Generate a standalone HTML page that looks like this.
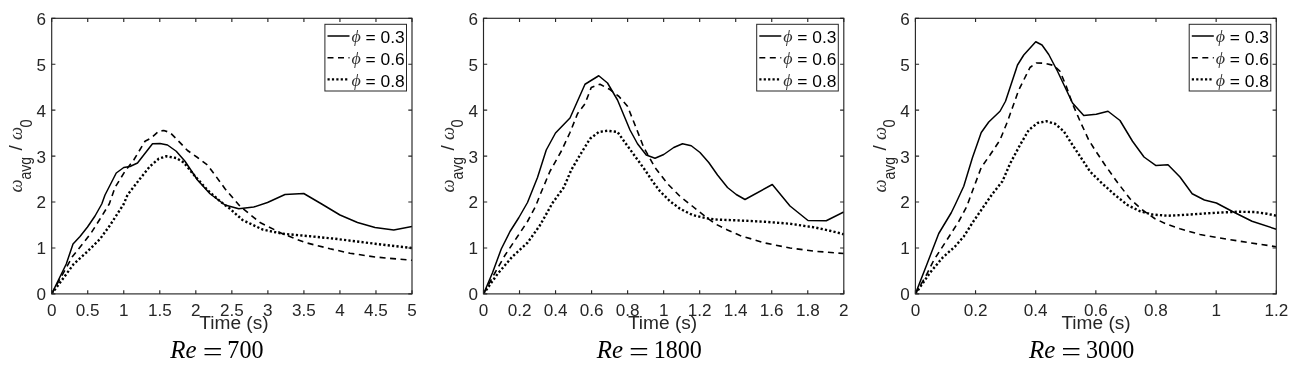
<!DOCTYPE html>
<html lang="en"><head><meta charset="utf-8"><title>Average vorticity</title>
<style>
html,body{margin:0;padding:0;background:#fff;}
body{width:1297px;height:368px;overflow:hidden;}
svg{display:block;}
.tk{font-family:"Liberation Sans",sans-serif;font-size:17.1px;fill:#262626;}
.lb{font-family:"Liberation Sans",sans-serif;font-size:19.1px;fill:#262626;}
.sub{font-family:"Liberation Sans",sans-serif;font-size:14px;fill:#262626;}
.lg{font-family:"Liberation Sans",sans-serif;font-size:17.4px;fill:#000;}
.mi{font-family:"Liberation Serif","DejaVu Serif",serif;font-style:italic;fill:#333;}
.cap{font-family:"Liberation Serif",serif;font-size:24px;fill:#000;}
.ax{stroke:#262626;stroke-width:1.15;fill:none;}
.cs{stroke:#000;stroke-width:1.5;fill:none;stroke-linejoin:round;}
.cd{stroke:#000;stroke-width:1.6;fill:none;stroke-dasharray:6 4.5;stroke-linejoin:round;}
.ct{stroke:#000;stroke-width:2.4;fill:none;stroke-dasharray:2.2 2.2;stroke-linejoin:round;}
</style></head><body>
<svg width="1297" height="368" viewBox="0 0 1297 368">
<rect width="1297" height="368" fill="#fff"/>
<g id="plot1">
<clipPath id="c0"><rect x="51.7" y="18.3" width="360.30" height="275.60"/></clipPath>
<g clip-path="url(#c0)">
<polyline class="cs" points="51.70,293.90 66.25,264.00 73.00,244.00 80.00,236.50 87.50,227.00 95.00,216.00 101.75,204.00 105.00,195.00 116.25,173.00 123.75,167.50 130.00,166.50 137.50,163.00 152.50,143.75 160.00,143.50 167.50,145.00 176.25,151.25 185.00,161.25 197.50,180.00 210.00,193.75 225.00,205.00 238.75,208.75 253.75,207.00 267.50,202.50 285.00,194.50 303.75,193.50 321.25,203.75 340.00,215.00 357.50,222.50 375.00,227.50 393.75,230.00 412.00,226.50"/>
<polyline class="cd" points="51.70,293.90 72.50,256.50 82.50,244.00 91.25,232.75 100.00,219.00 109.25,204.00 115.00,187.50 125.00,171.25 133.75,160.00 145.00,141.25 151.25,138.00 158.75,131.25 163.75,130.50 170.00,132.50 177.50,140.00 187.50,150.50 197.50,157.50 207.50,165.00 215.00,175.00 225.00,188.75 240.00,206.25 260.00,222.50 282.50,233.75 305.00,242.50 330.00,248.75 350.00,253.25 375.00,257.00 412.00,260.30"/>
<polyline class="ct" points="51.70,293.90 73.75,264.00 87.50,251.50 100.00,239.00 110.00,225.25 123.75,204.00 127.50,195.00 140.00,178.75 150.00,166.25 158.75,158.75 166.25,156.25 176.25,158.00 183.75,162.50 195.00,176.25 207.50,190.00 220.00,201.25 230.00,208.75 242.50,220.00 262.50,229.50 282.50,233.75 310.00,236.25 335.00,238.75 355.00,241.25 375.00,243.75 412.00,248.00"/>
</g>
<rect class="ax" x="51.7" y="18.3" width="360.30" height="275.60"/>
<text class="tk" x="51.70" y="316.3" text-anchor="middle">0</text>
<text class="tk" x="87.73" y="316.3" text-anchor="middle">0.5</text>
<text class="tk" x="123.76" y="316.3" text-anchor="middle">1</text>
<text class="tk" x="159.79" y="316.3" text-anchor="middle">1.5</text>
<text class="tk" x="195.82" y="316.3" text-anchor="middle">2</text>
<text class="tk" x="231.85" y="316.3" text-anchor="middle">2.5</text>
<text class="tk" x="267.88" y="316.3" text-anchor="middle">3</text>
<text class="tk" x="303.91" y="316.3" text-anchor="middle">3.5</text>
<text class="tk" x="339.94" y="316.3" text-anchor="middle">4</text>
<text class="tk" x="375.97" y="316.3" text-anchor="middle">4.5</text>
<text class="tk" x="412.00" y="316.3" text-anchor="middle">5</text>
<text class="tk" x="46.10" y="300.30" text-anchor="end">0</text>
<text class="tk" x="46.10" y="254.37" text-anchor="end">1</text>
<text class="tk" x="46.10" y="208.43" text-anchor="end">2</text>
<text class="tk" x="46.10" y="162.50" text-anchor="end">3</text>
<text class="tk" x="46.10" y="116.57" text-anchor="end">4</text>
<text class="tk" x="46.10" y="70.63" text-anchor="end">5</text>
<text class="tk" x="46.10" y="24.70" text-anchor="end">6</text>
<path class="ax" d="M51.70 293.9v-3.7M51.70 18.3v3.7M87.73 293.9v-3.7M87.73 18.3v3.7M123.76 293.9v-3.7M123.76 18.3v3.7M159.79 293.9v-3.7M159.79 18.3v3.7M195.82 293.9v-3.7M195.82 18.3v3.7M231.85 293.9v-3.7M231.85 18.3v3.7M267.88 293.9v-3.7M267.88 18.3v3.7M303.91 293.9v-3.7M303.91 18.3v3.7M339.94 293.9v-3.7M339.94 18.3v3.7M375.97 293.9v-3.7M375.97 18.3v3.7M412.00 293.9v-3.7M412.00 18.3v3.7M51.7 293.90h3.7M412.0 293.90h-3.7M51.7 247.97h3.7M412.0 247.97h-3.7M51.7 202.03h3.7M412.0 202.03h-3.7M51.7 156.10h3.7M412.0 156.10h-3.7M51.7 110.17h3.7M412.0 110.17h-3.7M51.7 64.23h3.7M412.0 64.23h-3.7M51.7 18.30h3.7M412.0 18.30h-3.7"/>
<text class="lb" x="233.95" y="329.2" text-anchor="middle">Time (s)</text>
<text class="mi" font-size="18.6px" transform="translate(22.30,192.60) rotate(-90)">ω</text>
<text class="sub"  transform="translate(31.20,179.60) rotate(-90) scale(1,1.13)">avg</text>
<text class="lb"  transform="translate(21.80,150.50) rotate(-90)">/</text>
<text class="mi" font-size="18.6px" transform="translate(22.30,140.00) rotate(-90)">ω</text>
<text class="sub"  transform="translate(31.60,127.60) rotate(-90) scale(1.05,1.12)">0</text>
<rect x="324.90" y="24.3" width="81.6" height="66.7" fill="#fff" stroke="#262626" stroke-width="1"/>
<line class="cs" x1="327.50" y1="36.00" x2="349.50" y2="36.00"/>
<text class="mi" font-size="18px" fill="#333" transform="translate(351.50,42.40) scale(1,0.9)">ϕ</text><text class="lg" x="365.50" y="43.20">= 0.3</text>
<line class="cd" x1="327.50" y1="57.70" x2="349.50" y2="57.70"/>
<text class="mi" font-size="18px" fill="#333" transform="translate(351.50,64.10) scale(1,0.9)">ϕ</text><text class="lg" x="365.50" y="64.90">= 0.6</text>
<line class="ct" x1="327.50" y1="79.40" x2="349.50" y2="79.40"/>
<text class="mi" font-size="18px" fill="#333" transform="translate(351.50,85.80) scale(1,0.9)">ϕ</text><text class="lg" x="365.50" y="86.60">= 0.8</text>
<text class="cap" font-style="italic" transform="translate(170.37,358.0) scale(1.04,1.035)">Re</text>
<text class="cap" transform="translate(202.67,360.7) scale(1.47,1.10)">=</text>
<text class="cap" transform="translate(227.37,358.0) scale(1.005,1.035)">700</text>
</g>
<g id="plot2">
<clipPath id="c1"><rect x="483.5" y="18.3" width="360.30" height="275.60"/></clipPath>
<g clip-path="url(#c1)">
<polyline class="cs" points="483.50,293.90 492.50,272.75 501.25,249.00 510.00,231.50 518.75,217.75 527.50,202.50 537.50,177.50 546.25,150.00 555.50,133.00 570.00,118.00 585.00,84.25 598.75,75.75 607.50,83.00 617.50,100.00 630.00,130.00 637.50,143.75 646.25,155.00 655.00,158.25 663.75,154.50 673.75,147.50 682.50,143.75 691.25,145.75 700.00,152.50 708.75,162.50 717.50,175.00 727.50,187.50 736.25,194.50 745.00,199.50 772.30,184.50 790.00,206.00 808.00,220.50 826.25,220.75 843.80,212.00"/>
<polyline class="cd" points="483.50,293.90 495.00,272.75 505.00,255.25 517.50,236.50 527.50,221.50 535.50,206.50 540.00,195.00 550.00,171.25 561.25,151.25 570.00,132.50 577.50,113.75 585.00,103.75 591.25,87.50 600.00,84.25 610.00,89.50 618.75,96.25 627.50,106.25 635.00,125.00 643.75,147.50 655.00,167.50 667.50,183.75 680.00,196.25 692.50,206.25 705.00,216.25 715.00,223.75 727.50,230.00 740.00,235.50 765.00,243.00 790.00,248.00 815.00,251.25 843.80,253.50"/>
<polyline class="ct" points="483.50,293.90 497.50,274.00 512.50,256.50 527.50,242.75 540.00,225.25 552.50,203.00 563.75,187.50 571.25,170.00 580.00,155.00 590.00,138.75 598.75,132.00 607.50,130.75 617.50,132.00 625.00,142.50 635.00,156.25 645.00,170.00 652.50,181.25 660.00,191.25 670.00,201.25 680.00,208.75 692.50,215.00 705.00,218.00 715.00,219.50 740.00,220.50 765.00,221.75 790.00,223.75 815.00,227.50 830.00,230.75 843.80,234.25"/>
</g>
<rect class="ax" x="483.5" y="18.3" width="360.30" height="275.60"/>
<text class="tk" x="483.50" y="316.3" text-anchor="middle">0</text>
<text class="tk" x="519.53" y="316.3" text-anchor="middle">0.2</text>
<text class="tk" x="555.56" y="316.3" text-anchor="middle">0.4</text>
<text class="tk" x="591.59" y="316.3" text-anchor="middle">0.6</text>
<text class="tk" x="627.62" y="316.3" text-anchor="middle">0.8</text>
<text class="tk" x="663.65" y="316.3" text-anchor="middle">1</text>
<text class="tk" x="699.68" y="316.3" text-anchor="middle">1.2</text>
<text class="tk" x="735.71" y="316.3" text-anchor="middle">1.4</text>
<text class="tk" x="771.74" y="316.3" text-anchor="middle">1.6</text>
<text class="tk" x="807.77" y="316.3" text-anchor="middle">1.8</text>
<text class="tk" x="843.80" y="316.3" text-anchor="middle">2</text>
<text class="tk" x="477.90" y="300.30" text-anchor="end">0</text>
<text class="tk" x="477.90" y="254.37" text-anchor="end">1</text>
<text class="tk" x="477.90" y="208.43" text-anchor="end">2</text>
<text class="tk" x="477.90" y="162.50" text-anchor="end">3</text>
<text class="tk" x="477.90" y="116.57" text-anchor="end">4</text>
<text class="tk" x="477.90" y="70.63" text-anchor="end">5</text>
<text class="tk" x="477.90" y="24.70" text-anchor="end">6</text>
<path class="ax" d="M483.50 293.9v-3.7M483.50 18.3v3.7M519.53 293.9v-3.7M519.53 18.3v3.7M555.56 293.9v-3.7M555.56 18.3v3.7M591.59 293.9v-3.7M591.59 18.3v3.7M627.62 293.9v-3.7M627.62 18.3v3.7M663.65 293.9v-3.7M663.65 18.3v3.7M699.68 293.9v-3.7M699.68 18.3v3.7M735.71 293.9v-3.7M735.71 18.3v3.7M771.74 293.9v-3.7M771.74 18.3v3.7M807.77 293.9v-3.7M807.77 18.3v3.7M843.80 293.9v-3.7M843.80 18.3v3.7M483.5 293.90h3.7M843.8 293.90h-3.7M483.5 247.97h3.7M843.8 247.97h-3.7M483.5 202.03h3.7M843.8 202.03h-3.7M483.5 156.10h3.7M843.8 156.10h-3.7M483.5 110.17h3.7M843.8 110.17h-3.7M483.5 64.23h3.7M843.8 64.23h-3.7M483.5 18.30h3.7M843.8 18.30h-3.7"/>
<text class="lb" x="662.55" y="329.2" text-anchor="middle">Time (s)</text>
<text class="mi" font-size="18.6px" transform="translate(454.10,192.60) rotate(-90)">ω</text>
<text class="sub"  transform="translate(463.00,179.60) rotate(-90) scale(1,1.13)">avg</text>
<text class="lb"  transform="translate(453.60,150.50) rotate(-90)">/</text>
<text class="mi" font-size="18.6px" transform="translate(454.10,140.00) rotate(-90)">ω</text>
<text class="sub"  transform="translate(463.40,127.60) rotate(-90) scale(1.05,1.12)">0</text>
<rect x="756.70" y="24.3" width="81.6" height="66.7" fill="#fff" stroke="#262626" stroke-width="1"/>
<line class="cs" x1="759.30" y1="36.00" x2="781.30" y2="36.00"/>
<text class="mi" font-size="18px" fill="#333" transform="translate(783.30,42.40) scale(1,0.9)">ϕ</text><text class="lg" x="797.30" y="43.20">= 0.3</text>
<line class="cd" x1="759.30" y1="57.70" x2="781.30" y2="57.70"/>
<text class="mi" font-size="18px" fill="#333" transform="translate(783.30,64.10) scale(1,0.9)">ϕ</text><text class="lg" x="797.30" y="64.90">= 0.6</text>
<line class="ct" x1="759.30" y1="79.40" x2="781.30" y2="79.40"/>
<text class="mi" font-size="18px" fill="#333" transform="translate(783.30,85.80) scale(1,0.9)">ϕ</text><text class="lg" x="797.30" y="86.60">= 0.8</text>
<text class="cap" font-style="italic" transform="translate(596.70,358.0) scale(1.04,1.035)">Re</text>
<text class="cap" transform="translate(629.00,360.7) scale(1.47,1.10)">=</text>
<text class="cap" transform="translate(653.70,358.0) scale(1.005,1.035)">1800</text>
</g>
<g id="plot3">
<clipPath id="c2"><rect x="915.4" y="18.3" width="360.90" height="275.60"/></clipPath>
<g clip-path="url(#c2)">
<polyline class="cs" points="915.40,293.90 927.50,262.75 938.75,233.50 951.25,212.75 955.50,204.00 963.75,186.25 972.50,157.50 981.25,132.50 988.75,122.00 1000.00,111.25 1005.50,101.25 1017.50,65.00 1023.75,55.00 1035.75,41.75 1042.00,45.00 1048.75,54.50 1057.50,71.25 1072.50,103.00 1083.75,115.60 1096.25,114.25 1108.00,111.25 1120.00,120.50 1132.50,141.25 1144.00,157.00 1156.00,165.60 1168.00,164.70 1180.00,177.00 1192.20,193.75 1204.40,200.00 1216.40,203.00 1232.00,211.25 1252.00,221.25 1276.30,229.25"/>
<polyline class="cd" points="915.40,293.90 926.25,275.25 933.75,260.25 947.50,239.00 958.75,221.50 966.75,206.50 973.75,187.50 981.25,167.50 990.00,155.00 1000.00,140.00 1007.50,121.50 1012.50,107.50 1018.75,90.00 1025.00,77.50 1030.00,67.50 1036.25,63.00 1045.00,63.25 1053.75,65.50 1060.00,71.25 1066.25,86.25 1072.50,103.75 1080.00,121.00 1088.75,140.00 1095.00,150.00 1105.00,165.00 1117.50,182.50 1130.00,198.75 1142.50,210.00 1155.00,218.75 1167.50,224.50 1180.00,228.75 1200.00,234.50 1220.00,238.00 1240.00,241.25 1276.30,246.75"/>
<polyline class="ct" points="915.40,293.90 930.00,272.75 942.50,257.75 955.00,246.50 963.75,236.50 972.50,222.75 984.50,205.25 992.50,193.75 1002.50,181.25 1010.00,163.75 1020.00,145.00 1028.75,130.00 1037.50,123.00 1046.25,121.25 1055.00,123.75 1063.75,131.25 1072.50,145.00 1082.50,160.00 1090.00,171.50 1102.50,183.75 1115.00,195.00 1127.50,205.00 1140.00,211.25 1152.50,214.50 1167.50,215.75 1187.00,214.70 1212.00,213.00 1237.00,211.75 1254.50,212.00 1267.00,213.75 1276.30,215.75"/>
</g>
<rect class="ax" x="915.4" y="18.3" width="360.90" height="275.60"/>
<text class="tk" x="915.40" y="316.3" text-anchor="middle">0</text>
<text class="tk" x="975.55" y="316.3" text-anchor="middle">0.2</text>
<text class="tk" x="1035.70" y="316.3" text-anchor="middle">0.4</text>
<text class="tk" x="1095.85" y="316.3" text-anchor="middle">0.6</text>
<text class="tk" x="1156.00" y="316.3" text-anchor="middle">0.8</text>
<text class="tk" x="1216.15" y="316.3" text-anchor="middle">1</text>
<text class="tk" x="1276.30" y="316.3" text-anchor="middle">1.2</text>
<text class="tk" x="909.80" y="300.30" text-anchor="end">0</text>
<text class="tk" x="909.80" y="254.37" text-anchor="end">1</text>
<text class="tk" x="909.80" y="208.43" text-anchor="end">2</text>
<text class="tk" x="909.80" y="162.50" text-anchor="end">3</text>
<text class="tk" x="909.80" y="116.57" text-anchor="end">4</text>
<text class="tk" x="909.80" y="70.63" text-anchor="end">5</text>
<text class="tk" x="909.80" y="24.70" text-anchor="end">6</text>
<path class="ax" d="M915.40 293.9v-3.7M915.40 18.3v3.7M975.55 293.9v-3.7M975.55 18.3v3.7M1035.70 293.9v-3.7M1035.70 18.3v3.7M1095.85 293.9v-3.7M1095.85 18.3v3.7M1156.00 293.9v-3.7M1156.00 18.3v3.7M1216.15 293.9v-3.7M1216.15 18.3v3.7M1276.30 293.9v-3.7M1276.30 18.3v3.7M915.4 293.90h3.7M1276.3 293.90h-3.7M915.4 247.97h3.7M1276.3 247.97h-3.7M915.4 202.03h3.7M1276.3 202.03h-3.7M915.4 156.10h3.7M1276.3 156.10h-3.7M915.4 110.17h3.7M1276.3 110.17h-3.7M915.4 64.23h3.7M1276.3 64.23h-3.7M915.4 18.30h3.7M1276.3 18.30h-3.7"/>
<text class="lb" x="1096.05" y="329.2" text-anchor="middle">Time (s)</text>
<text class="mi" font-size="18.6px" transform="translate(886.00,192.60) rotate(-90)">ω</text>
<text class="sub"  transform="translate(894.90,179.60) rotate(-90) scale(1,1.13)">avg</text>
<text class="lb"  transform="translate(885.50,150.50) rotate(-90)">/</text>
<text class="mi" font-size="18.6px" transform="translate(886.00,140.00) rotate(-90)">ω</text>
<text class="sub"  transform="translate(895.30,127.60) rotate(-90) scale(1.05,1.12)">0</text>
<rect x="1189.20" y="24.3" width="81.6" height="66.7" fill="#fff" stroke="#262626" stroke-width="1"/>
<line class="cs" x1="1191.80" y1="36.00" x2="1213.80" y2="36.00"/>
<text class="mi" font-size="18px" fill="#333" transform="translate(1215.80,42.40) scale(1,0.9)">ϕ</text><text class="lg" x="1229.80" y="43.20">= 0.3</text>
<line class="cd" x1="1191.80" y1="57.70" x2="1213.80" y2="57.70"/>
<text class="mi" font-size="18px" fill="#333" transform="translate(1215.80,64.10) scale(1,0.9)">ϕ</text><text class="lg" x="1229.80" y="64.90">= 0.6</text>
<line class="ct" x1="1191.80" y1="79.40" x2="1213.80" y2="79.40"/>
<text class="mi" font-size="18px" fill="#333" transform="translate(1215.80,85.80) scale(1,0.9)">ϕ</text><text class="lg" x="1229.80" y="86.60">= 0.8</text>
<text class="cap" font-style="italic" transform="translate(1029.03,358.0) scale(1.04,1.035)">Re</text>
<text class="cap" transform="translate(1061.33,360.7) scale(1.47,1.10)">=</text>
<text class="cap" transform="translate(1086.03,358.0) scale(1.005,1.035)">3000</text>
</g>
</svg></body></html>
